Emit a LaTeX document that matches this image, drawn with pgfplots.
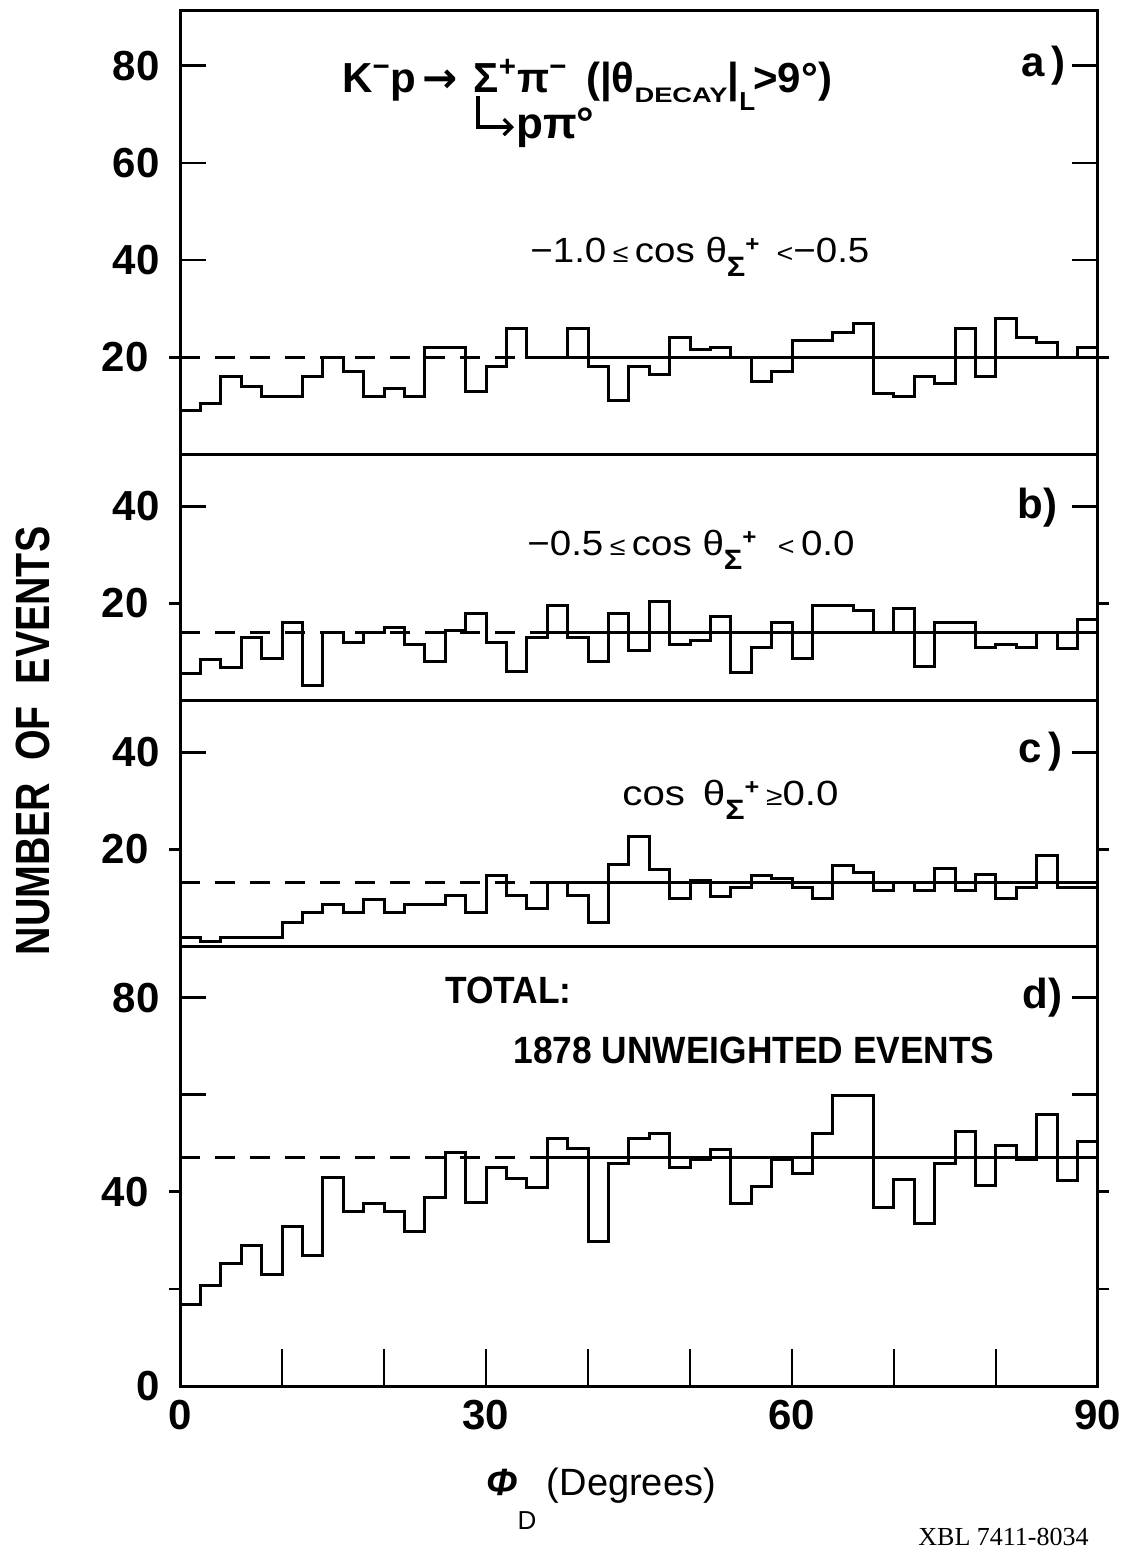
\documentclass[border=0pt]{standalone}
\usepackage{fontspec}
\setmainfont{Liberation Sans}
\newfontfamily\xblfont{Liberation Serif}
\newfontfamily\symfont{DejaVu Sans}
\usepackage{graphicx}
\usepackage{pgfplots}
\usepackage{pgfplotstable}
\pgfplotsset{compat=1.18}
\usetikzlibrary{arrows.meta}

\newcommand\fs[1]{\fontsize{#1}{#1}\selectfont}
\newcommand\sigp{\raisebox{-0.4em}{\fs{14}\bfseries Σ}\raisebox{0.3em}{\fs{11}\bfseries +}}

% 2-degree bins, value at left edge; last row repeats the final bin
\pgfplotstableread{
phi a    b    c    d
0   9    5.5  1.8  16.8
2   10.5 8.4  1.0  20.8
4   16   6.8  1.8  25.2
6   14   13   1.8  29
8   12   8.6  1.8  23
10  12   16   5.0  32.9
12  16   3.1  7.0  26.9
14  20   14   8.6  43
16  17   12   7.0  35.9
18  12   14   9.8  37.6
20  13.5 15   7.0  35.9
22  12   11.6 8.6  31.9
24  22   8.1  8.6  38.9
26  22   14.5 10.5 48.1
28  13   18   7.0  37.7
30  18   12   14.7 45
32  26   6.0  10.5 42.8
34  20   13   7.8  40.9
36  20   19.5 13.2 50.9
38  26   13   10.5 49
40  18   8.0  5.0  29.8
42  11   18   16.9 45.8
44  18   10.2 22.7 50.9
46  16.5 20.4 15.9 52.1
48  24   11.6 9.9  45.1
50  21.5 12.4 13.7 46.7
52  22   17.2 10.3 48.8
54  20   5.7  12.2 37.6
56  15   11   14.7 41.1
58  17   16   14   46.7
60  23.5 8.6  12.2 43.7
62  23.5 19.5 9.9  52
64  25   19.5 16.8 59.9
66  27   18.5 15.2 59.9
68  12.5 14   11.5 36.8
70  12   19   13.2 42.6
72  16   6.9  11.5 33.5
74  14.5 16   16   45.9
76  26   16   11.5 52.4
78  16   11   14.9 41.4
80  28   11.6 9.9  49.5
82  24   11   12.2 46.7
84  23   14   18.8 55.9
86  20   10.8 12.2 42.4
88  22   16.6 12.2 50.4
90  22   16.6 12.2 50.4
}\phid

\pgfplotsset{
  panel/.style={
    anchor=north west,
    x=5.1pt, y=2.4277pt,
    xmin=0, xmax=90, ymin=0,
    clip=false,
    axis line style={line width=1.5pt},
    tick style={line width=1.4pt, black},
    tick align=inside,
    major tick length=13pt,
    ytick pos=both,
    yticklabel pos=left,
    xtick=\empty,
    tick label style={font=\fs{21}\bfseries},
    yticklabel style={inner sep=0pt, xshift=-10pt},
    /pgf/number format/assume math mode=true,
    extra tick style={tick align=outside, major tick length=5.5pt},
  },
  hist/.style={const plot, line width=1.5pt, black},
  mdash/.style={line width=1.6pt, black, dash pattern=on 10pt off 7.5pt},
  msolid/.style={line width=1.5pt, black},
}

\begin{document}
\begin{tikzpicture}
\useasboundingbox (0,0) rectangle (560.5pt,-774.5pt);

% a) -1.0 <= cos < -0.5
\begin{axis}[panel, name=pa, at={(90pt,-5pt)}, ymax=91.5,
  ytick={40,60,80}, extra y ticks={20}]
\addplot[hist] table[x=phi, y=a] {\phid};
\addplot[mdash] coordinates {(0,20) (36,20)};
\addplot[msolid] coordinates {(36,20) (90,20)};
\end{axis}

% b) -0.5 <= cos < 0
\begin{axis}[panel, name=pb, at={(pa.south west)}, ymax=50.7,
  ytick={40}, extra y ticks={20}]
\addplot[hist] table[x=phi, y=b] {\phid};
\addplot[mdash] coordinates {(0,14) (36,14)};
\addplot[msolid] coordinates {(36,14) (90,14)};
\end{axis}

% c) cos >= 0
\begin{axis}[panel, name=pc, at={(pb.south west)}, ymax=50.7,
  ytick={40}, extra y ticks={20}]
\addplot[hist] table[x=phi, y=c] {\phid};
\addplot[mdash] coordinates {(0,13.2) (36,13.2)};
\addplot[msolid] coordinates {(36,13.2) (90,13.2)};
\end{axis}

% d) total
\begin{axis}[panel, name=pd, at={(pc.south west)}, ymax=90.5,
  ytick={0,60,80}, yticklabels={0,,80},
  extra y ticks={20,40}, extra y tick labels={,40},
  xtick={0,10,...,90}, xticklabels={0,,,30,,,60,,,90},
  xtick pos=left,
  xtick style={/pgfplots/major tick length=18.5pt},
  xticklabel style={inner sep=0pt, yshift=-7pt}]
\addplot[hist] table[x=phi, y=d] {\phid};
\addplot[mdash] coordinates {(0,47) (36,47)};
\addplot[msolid] coordinates {(36,47) (90,47)};
\end{axis}

% labels, in pixel units of the reference (origin top left)
\begin{scope}[x=0.5pt, y=-0.5pt]
\node[anchor=base west, inner sep=0pt] at (342,92)
  {\fs{21}\bfseries K\textsuperscript{−}p\hspace{3pt}{\symfont\bfseries →}\hspace{8pt}Σ\textsuperscript{+}π\textsuperscript{−}\ \,(|θ\raisebox{-0.25em}{\scalebox{1.3}[1]{\fs{10.5}DECAY}}|\rlap{\raisebox{-0.45em}{\fs{13}L}}\,\,>9°)};
\draw[line width=1.6pt, -{Straight Barb[length=4pt, width=8pt]}] (478,96) |- (514,127);
\node[anchor=base west, inner sep=0pt] at (516,138) {\fs{22}\bfseries pπ°};
\node[anchor=east, inner sep=0pt] at (1066,66) {\fs{21}\bfseries a\,)};

\node[anchor=base west, inner sep=0pt] at (530,262)
  {\scalebox{1.1}[1]{\fs{17.5}−1.0\,{\fs{13}≤}\,cos\ θ\sigp\ \,{\fs{13}<}−0.5}};

\node[anchor=east, inner sep=0pt] at (1058,508) {\fs{21}\bfseries b)};
\node[anchor=base west, inner sep=0pt] at (527,555)
  {\scalebox{1.1}[1]{\fs{17.5}−0.5\,{\fs{13}≤}\,cos\ θ\sigp\ \ {\fs{13}<}\,0.0}};

\node[anchor=east, inner sep=0pt] at (1063,752) {\fs{21}\bfseries c\,)};
\node[anchor=base west, inner sep=0pt] at (622,805)
  {\scalebox{1.15}[1]{\fs{17.5}cos\ \,θ\sigp\,{\fs{13}≥}0.0}};

\node[anchor=east, inner sep=0pt] at (1063,998) {\fs{21}\bfseries d)};
\node[anchor=base west, inner sep=0pt] at (445,1003) {\scalebox{0.93}[1]{\fs{19}\bfseries TOTAL:}};
\node[anchor=base west, inner sep=0pt] at (513,1063) {\scalebox{0.93}[1]{\fs{19}\bfseries 1878 UNWEIGHTED EVENTS}};

\node[rotate=90, inner sep=0pt] at (33,741)
  {\scalebox{0.82}[1]{\fs{24}\bfseries NUMBER\ \ OF\ \ EVENTS}};
\node[anchor=base west, inner sep=0pt] at (486,1495)
  {\fs{19}\textbf{\textit{Φ}}\raisebox{-0.9em}{\fs{13}D}\ (Degrees)};
\node[anchor=base west, inner sep=0pt] at (918,1545)
  {\xblfont\fs{13}XBL 7411-8034};
\end{scope}
\end{tikzpicture}
\end{document}
